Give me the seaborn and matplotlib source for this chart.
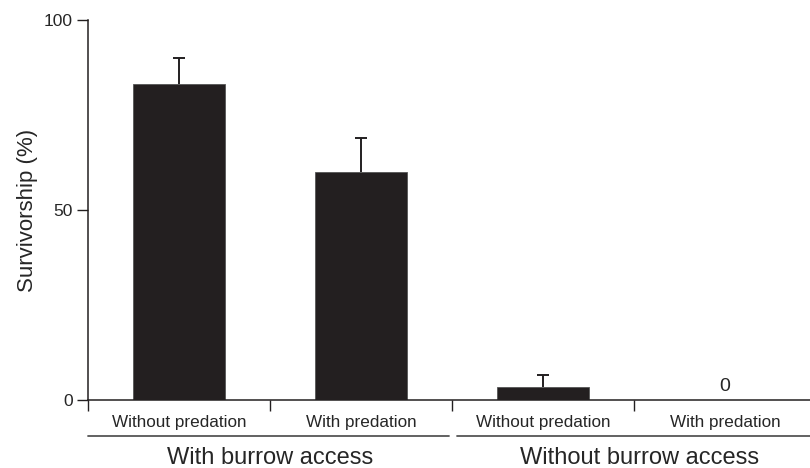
import matplotlib
matplotlib.use("Agg")
import matplotlib.pyplot as plt
import seaborn as sns
import pandas as pd
import numpy as np

categories = ["Without predation", "With predation", "Without predation", "With predation"]
groups = ["With burrow access", "Without burrow access"]
survivorship = [83.2, 60.0, 3.4, 0.0]
error_upper = [6.8, 9.0, 3.2, 0.0]
yticks = [0, 50, 100]

sns.set_style("ticks")
plt.rcParams['font.family'] = ['Liberation Sans', 'DejaVu Sans']

df = pd.DataFrame({"key": [f"c{i}" for i in range(len(categories))],
                   "label": categories, "value": survivorship})

fig = plt.figure(figsize=(8.1, 4.68), dpi=100)
ax = fig.add_axes([88/810, 1-400/468, 1-88/810, 380/468])
sns.barplot(data=df, x="key", y="value", color="#231f20", width=0.51,
            saturation=1, ax=ax, errorbar=None, edgecolor="#555555", linewidth=0.6)

xs = np.arange(len(categories))
mask = np.array(error_upper) > 0
eb = ax.errorbar(xs[mask], np.array(survivorship)[mask],
                 yerr=[np.zeros(mask.sum()), np.array(error_upper)[mask]],
                 fmt="none", ecolor="#231f20", elinewidth=1.4, capsize=4.4, capthick=1.4)
caps = eb[1]
if len(caps) >= 2:
    caps[0].set_visible(False)

# zero label
for x, v in zip(xs, survivorship):
    if v == 0:
        ax.text(x, 1.3, "0", ha="center", va="bottom", fontsize=14)

ax.set_ylim(0, 100)
ax.set_xlim(-0.5, 3.467)
ax.set_yticks(yticks)
ax.set_yticklabels([str(t) for t in yticks], fontsize=12.5)
ax.set_xticks([-0.5, 0.5, 1.5, 2.5])
ax.set_xticklabels([])
ax.set_xticks(xs, minor=True)
ax.set_xticklabels(categories, minor=True, fontsize=12.3)
ax.tick_params(axis="x", which="minor", length=0, pad=11)
ax.tick_params(axis="both", which="major", length=8, width=1, color="#231f20")
ax.tick_params(axis="y", which="major", pad=3)
ax.set_xlabel("")
ax.set_ylabel("Survivorship (%)", fontsize=16, labelpad=4)
for s in ["top", "right"]:
    ax.spines[s].set_visible(False)
for s in ["left", "bottom"]:
    ax.spines[s].set_linewidth(1.1)
    ax.spines[s].set_color("#231f20")

# group lines and labels (figure coordinates)
line_y = 1 - 436/468
lab_y = 1 - 458/468
fig.add_artist(plt.Line2D([88/810, 449/810], [line_y, line_y], color="#555555", lw=1.3))
fig.add_artist(plt.Line2D([457/810, 1.0], [line_y, line_y], color="#555555", lw=1.3))
fig.text(270/810, lab_y, groups[0], ha="center", va="center", fontsize=17)
fig.text(640/810, lab_y, groups[1], ha="center", va="center", fontsize=17)

fig.savefig("out.png", dpi=100)
